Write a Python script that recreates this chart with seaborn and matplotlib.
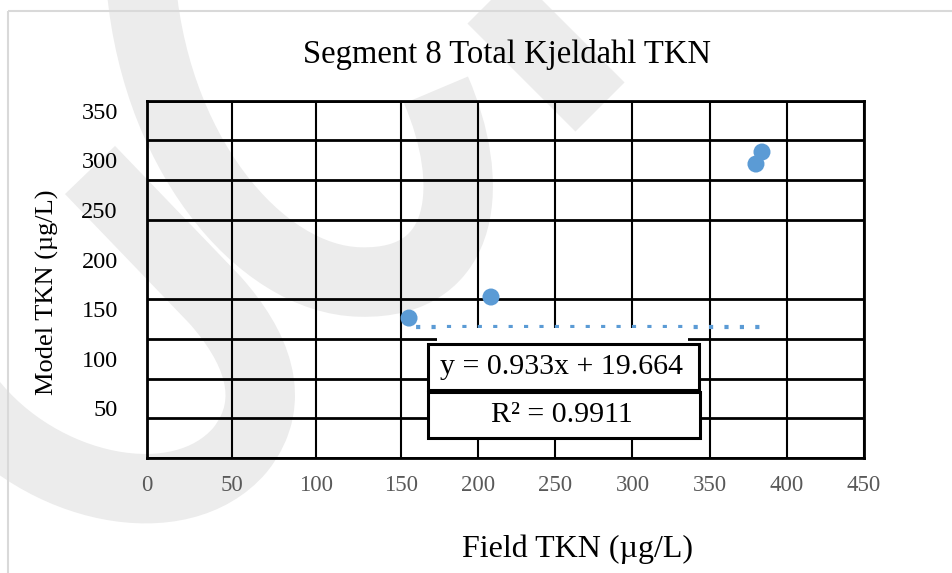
import matplotlib
matplotlib.use("Agg")
import matplotlib.pyplot as plt
import numpy as np
import pandas as pd
import seaborn as sns
from matplotlib.patches import PathPatch, Rectangle
from matplotlib.path import Path

# values
field_tkn = [155.2, 208.3, 380.0, 383.9]
model_tkn = [141.0, 162.2, 296.2, 308.3]
trend_level = 132.3
x_ticks = [0, 50, 100, 150, 200, 250, 300, 350, 400, 450]
y_ticks = [50, 100, 150, 200, 250, 300, 350]
y_grid = [0, 40, 80, 120, 160, 200, 240, 280, 320, 360]
equation = "y = 0.933x + 19.664"
r_squared = "R\u00b2 = 0.9911"
title = "Segment 8 Total Kjeldahl TKN"
x_label = "Field TKN (\u00b5g/L)"
y_label = "Model TKN (\u00b5g/L)"

POINT_COLOR = "#5b9bd5"
MARK_GRAY = "#ececec"


# the source image has a wider first 150 units on the x axis
def x_forward(v):
    v = np.asarray(v, dtype=float)
    return np.where(v <= 150, v / 150 * 254, 254 + (v - 150) / 300 * 463)


def x_inverse(p):
    p = np.asarray(p, dtype=float)
    return np.where(p <= 254, p / 254 * 150, 150 + (p - 254) / 463 * 300)


sns.set_theme(style="white")
plt.rcParams["font.family"] = ["Liberation Serif", "DejaVu Serif"]

W, H = 953, 573
fig = plt.figure(figsize=(W / 100, H / 100), dpi=100)

# background layer: page frame and faint watermark swooshes
bg = fig.add_axes([0, 0, 1, 1], zorder=0)
bg.set_xlim(0, W)
bg.set_ylim(H, 0)
bg.axis("off")

C4 = Path.CURVE4
swooshes = [
    ([(140, -30), (150, 150), (260, 280), (360, 282), (470, 285), (475, 180), (436, 90)],
     [Path.MOVETO, C4, C4, C4, C4, C4, C4]),
    ([(460, -33), (600, 107)], [Path.MOVETO, Path.LINETO]),
    ([(-30, 400), (40, 490), (180, 520), (240, 450), (280, 400), (255, 345), (215, 300), (90, 170)],
     [Path.MOVETO, C4, C4, C4, C4, C4, C4, Path.LINETO]),
]
for verts, codes in swooshes:
    bg.add_patch(PathPatch(Path(verts, codes), fill=False, edgecolor=MARK_GRAY,
                           lw=50, capstyle="butt", joinstyle="round"))
bg.add_patch(Rectangle((8.5, 11), 1000, 1000, fill=False, edgecolor="#d9d9d9", lw=1.5))

# main chart
ax = fig.add_axes([147 / W, (H - 458) / H, 717 / W, 357.3 / H], zorder=1)
ax.set_facecolor("none")
ax.set_xscale("function", functions=(x_forward, x_inverse))
ax.set_xlim(0, 450)
ax.set_ylim(0, 360)

points = pd.DataFrame({"field": field_tkn, "model": model_tkn})
trend = pd.DataFrame({"field": [min(field_tkn), max(field_tkn)],
                      "model": [trend_level, trend_level]})

sns.lineplot(data=trend, x="field", y="model", ax=ax, color=POINT_COLOR, lw=3.0,
             linestyle=(2, (1, 2.7)), zorder=4)
sns.scatterplot(data=points, x="field", y="model", ax=ax, s=150, color=POINT_COLOR,
                edgecolor="none", linewidth=0, zorder=5)

ax.set_xticks(x_ticks)
ax.set_yticks(y_ticks)
ax.set_yticks(y_grid, minor=True)
ax.xaxis.grid(True, color="black", lw=1.5)
ax.yaxis.grid(False, which="major")
ax.yaxis.grid(True, which="minor", color="black", lw=2.0)
ax.set_axisbelow(True)
ax.tick_params(axis="both", which="both", length=0)
ax.tick_params(axis="x", labelsize=16.5, labelcolor="#595959", pad=12.5)
ax.tick_params(axis="y", labelsize=17.5, labelcolor="black", pad=21)
ax.set_xlabel("")
ax.set_ylabel("")
for sp in ax.spines.values():
    sp.set_color("black")
    sp.set_linewidth(2.0)

# trendline label boxes
fg = fig.add_axes([0, 0, 1, 1], zorder=2)
fg.set_xlim(0, W)
fg.set_ylim(H, 0)
fg.axis("off")
fg.add_patch(Rectangle((437, 328), 251, 16, facecolor="white", edgecolor="none"))
fg.add_patch(Rectangle((428, 344), 271, 46, facecolor="white", edgecolor="black", lw=2.2))
fg.add_patch(Rectangle((428, 392), 272, 46, facecolor="white", edgecolor="black", lw=2.2))
fg.text(562, 367, equation, ha="center", va="center", fontsize=21.5, color="black")
fg.text(562, 415, r_squared, ha="center", va="center", fontsize=21.5, color="black")

fig.text(507 / W, (H - 63) / H, title, ha="center", va="baseline", fontsize=23.5, color="black")
fig.text(578 / W, (H - 557) / H, x_label, ha="center", va="baseline", fontsize=23, color="black")
fig.text(47 / W, (H - 292) / H, y_label, ha="center", va="center", rotation=90,
         fontsize=19, color="black")

fig.savefig("out.png", dpi=100, facecolor="white")
